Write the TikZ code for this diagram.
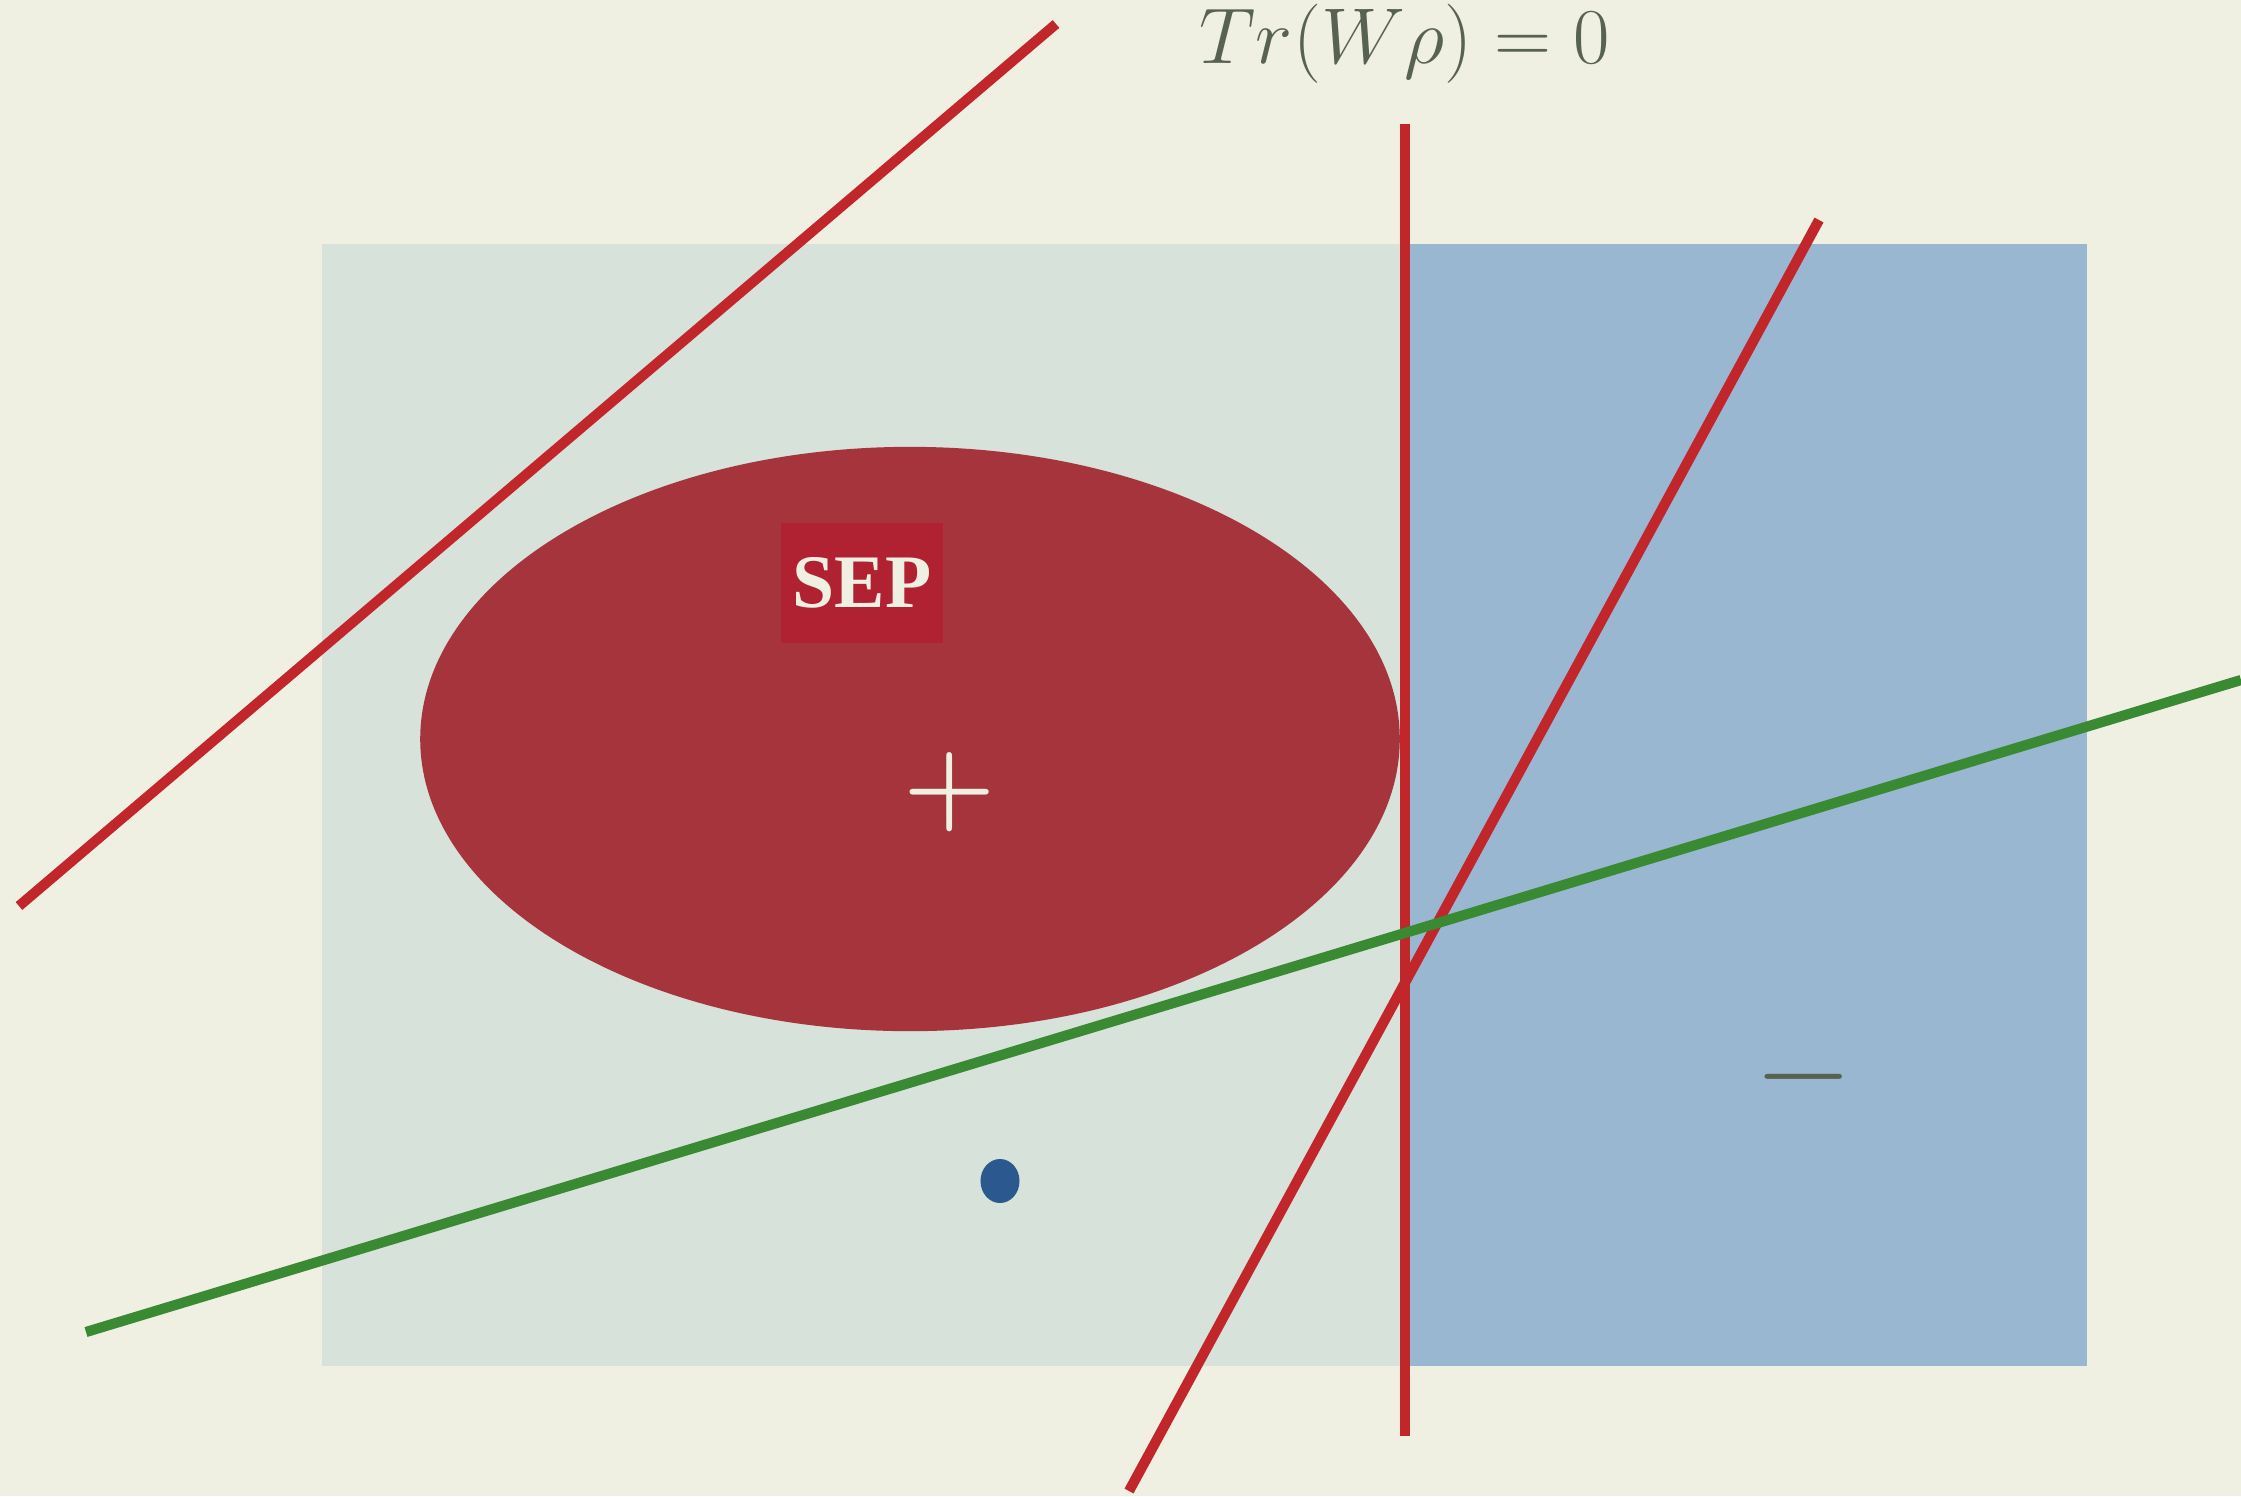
\RequirePackage{fix-cm}
\documentclass[tikz,border=0pt]{standalone}
\usepackage{fontspec}
\newfontfamily\seplabelfont{Liberation Serif}
\usetikzlibrary{positioning, calc, shapes.geometric}

\definecolor{paper}{RGB}{239,239,226}
\definecolor{regionLight}{RGB}{214,226,218}
\definecolor{regionBlue}{RGB}{153,183,209}
\definecolor{sepRed}{RGB}{166,52,60}
\definecolor{sepBox}{RGB}{176,34,50}
\definecolor{lineRed}{RGB}{192,38,42}
\definecolor{lineGreen}{RGB}{58,138,52}
\definecolor{inkGrey}{RGB}{88,98,82}
\definecolor{dotBlue}{RGB}{44,88,144}

\begin{document}
\begin{tikzpicture}[
    x=0.01cm, y=-0.01cm,
    every node/.style={inner sep=0pt, outer sep=0pt},
    region/.style={draw=none},
    hyperplane/.style={draw=lineRed, line width=2.9pt},
    witness/.style={draw=lineGreen, line width=2.9pt},
    seplabel/.style={
        fill=sepBox,
        minimum width=1.62cm,
        minimum height=1.2cm,
        text=paper,
        font=\seplabelfont\fontsize{21.5}{25}\selectfont\bfseries
    },
    sign/.style={font=\fontsize{36}{40}\selectfont}
]

% --- sfondo ---
\useasboundingbox (0,0) rectangle (2241,1496);
\fill[paper] (0,0) rectangle (2241,1496);

% --- regioni ---
\fill[region, regionLight] (322,244) rectangle (1408,1366);
\fill[region, regionBlue] (1408,244) rectangle (2087,1366);

% --- insieme separabile ---
\node[ellipse, fill=sepRed, minimum width=9.79cm, minimum height=5.84cm] (sep) at (910,739) {};
\node[seplabel] (seplab) at (862,583) {SEP};
\node[text=paper, font=\fontsize{30}{34}\selectfont\boldmath] (plus) at (950,792) {$+$};

% --- iperpiani ---
\coordinate (h1a) at (19,906);
\coordinate (h1b) at (1056,24);
\coordinate (h2a) at (1129,1491);
\coordinate (h2b) at (1819,220);
\coordinate (h0a) at (1405,124);
\coordinate (h0b) at (1405,1436);
\draw[hyperplane] (h1a) -- (h1b);
\draw[hyperplane] (h2a) -- (h2b);
\draw[hyperplane] (h0a) -- (h0b);

% --- testimone ---
\coordinate (wa) at (86,1332);
\coordinate (wb) at (2241,680);
\draw[witness] (wa) -- (wb);

% --- etichette ---
\node[sign, text=inkGrey] (minus) at (1804,1077) {$-$};
\node[ellipse, fill=dotBlue, minimum width=0.39cm, minimum height=0.44cm] (state) at (1000,1181) {};
\node[text=inkGrey, font=\fontsize{22.5}{26}\selectfont] (title) at (1405,44) {$Tr(W\rho) = 0$};

\end{tikzpicture}
\end{document}
